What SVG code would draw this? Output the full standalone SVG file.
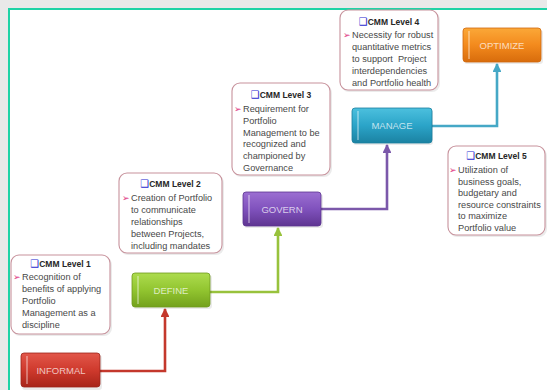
<svg xmlns="http://www.w3.org/2000/svg" width="547" height="390" viewBox="0 0 547 390">
<defs>
<style>
.callout{fill:#fff;stroke:#c7929c;stroke-width:1.1}
.shadow{fill:#000;opacity:0.08}
.title{font-family:"Liberation Sans",Arial,sans-serif;font-size:8.5px;font-weight:bold;fill:#262626;text-anchor:middle}
.sq{font-family:"DejaVu Sans",sans-serif;font-size:10px;fill:#2b2bd0;font-weight:normal}
.body{font-family:"Liberation Sans",Arial,sans-serif;font-size:9.2px;fill:#484848}
.bul{font-family:"DejaVu Sans",sans-serif;font-size:9px;fill:#e0357f}
.lbl{font-family:"Liberation Sans",Arial,sans-serif;font-size:9.5px;fill:#fff;fill-opacity:0.72;text-anchor:middle}
.hl{stroke:#fff;stroke-opacity:0.45;stroke-width:1.5}
.con{fill:none;stroke-width:2.6;stroke-linejoin:miter}
</style>
<linearGradient id="gRed" x1="0" y1="0" x2="0" y2="1"><stop offset="0" stop-color="#e2574a"/><stop offset="0.5" stop-color="#cf3a2d"/><stop offset="1" stop-color="#a82419"/></linearGradient>
<linearGradient id="gGreen" x1="0" y1="0" x2="0" y2="1"><stop offset="0" stop-color="#addc4e"/><stop offset="0.5" stop-color="#92c530"/><stop offset="1" stop-color="#73a11c"/></linearGradient>
<linearGradient id="gPurple" x1="0" y1="0" x2="0" y2="1"><stop offset="0" stop-color="#9c6fd2"/><stop offset="0.5" stop-color="#8052bd"/><stop offset="1" stop-color="#5f3592"/></linearGradient>
<linearGradient id="gTeal" x1="0" y1="0" x2="0" y2="1"><stop offset="0" stop-color="#4cc0de"/><stop offset="0.5" stop-color="#2ba4c8"/><stop offset="1" stop-color="#1b82a2"/></linearGradient>
<linearGradient id="gOrange" x1="0" y1="0" x2="0" y2="1"><stop offset="0" stop-color="#fba838"/><stop offset="0.5" stop-color="#f38a1d"/><stop offset="1" stop-color="#d86c0c"/></linearGradient>
<marker id="aRed" viewBox="0 0 10 10" refX="9" refY="5" markerWidth="3.4" markerHeight="3.4" orient="auto" markerUnits="strokeWidth"><path d="M0,0 L10,5 L0,10 z" fill="#c4382c"/></marker>
<marker id="aGreen" viewBox="0 0 10 10" refX="9" refY="5" markerWidth="3.4" markerHeight="3.4" orient="auto" markerUnits="strokeWidth"><path d="M0,0 L10,5 L0,10 z" fill="#98c23c"/></marker>
<marker id="aPurple" viewBox="0 0 10 10" refX="9" refY="5" markerWidth="3.4" markerHeight="3.4" orient="auto" markerUnits="strokeWidth"><path d="M0,0 L10,5 L0,10 z" fill="#7b58aa"/></marker>
<marker id="aTeal" viewBox="0 0 10 10" refX="9" refY="5" markerWidth="3.4" markerHeight="3.4" orient="auto" markerUnits="strokeWidth"><path d="M0,0 L10,5 L0,10 z" fill="#45a8c6"/></marker>
</defs>

<!-- frame -->
<rect x="0" y="0" width="547" height="390" fill="#e9e9e9"/>
<rect x="9" y="9" width="538" height="381" fill="#fff"/>
<path d="M9,390 V9 H547" fill="none" stroke="#1fd3a6" stroke-width="2"/>

<!-- connectors -->
<g id="connectors">
<path class="con" d="M100,371 H165 V309" stroke="#c4382c" marker-end="url(#aRed)"/>
<path class="con" d="M210,292 H278 V228" stroke="#98c23c" marker-end="url(#aGreen)"/>
<path class="con" d="M321,209 H387 V145" stroke="#7b58aa" marker-end="url(#aPurple)"/>
<path class="con" d="M432,126 H497 V64" stroke="#45a8c6" marker-end="url(#aTeal)"/>
</g>

<!-- stage nodes -->
<g id="informal">
<rect class="shadow" x="22" y="355" width="80" height="35" rx="3"/>
<rect x="21" y="353" width="79" height="34" rx="3" fill="url(#gRed)" stroke="#9c231a" stroke-width="0.8"/>
<line class="hl" x1="27" y1="356" x2="27" y2="384"/>
<text class="lbl" x="61" y="374">INFORMAL</text>
</g>
<g id="define">
<rect class="shadow" x="133" y="275" width="79" height="34" rx="3"/>
<rect x="132" y="273" width="78" height="34" rx="3" fill="url(#gGreen)" stroke="#6f9a1c" stroke-width="0.8"/>
<line class="hl" x1="138" y1="276" x2="138" y2="304"/>
<text class="lbl" x="171" y="294">DEFINE</text>
</g>
<g id="govern">
<rect class="shadow" x="244" y="194" width="79" height="34" rx="3"/>
<rect x="243" y="192" width="78" height="34" rx="3" fill="url(#gPurple)" stroke="#5a3290" stroke-width="0.8"/>
<line class="hl" x1="249" y1="195" x2="249" y2="223"/>
<text class="lbl" x="282" y="213">GOVERN</text>
</g>
<g id="manage">
<rect class="shadow" x="353" y="110" width="80" height="35" rx="3"/>
<rect x="352" y="108" width="80" height="35" rx="3" fill="url(#gTeal)" stroke="#1a7f9e" stroke-width="0.8"/>
<line class="hl" x1="358" y1="111" x2="358" y2="140"/>
<text class="lbl" x="392" y="129">MANAGE</text>
</g>
<g id="optimize">
<rect class="shadow" x="464" y="30" width="79" height="34" rx="3"/>
<rect x="463" y="28" width="78" height="34" rx="3" fill="url(#gOrange)" stroke="#cf680c" stroke-width="0.8"/>
<line class="hl" x1="469" y1="31" x2="469" y2="59"/>
<text class="lbl" x="502" y="48.5">OPTIMIZE</text>
</g>

<!-- callouts -->
<g id="level1">
<rect class="shadow" x="12" y="257" width="100" height="79" rx="8"/>
<rect class="callout" x="11" y="255" width="99" height="79" rx="8"/>
<text class="title" x="60.5" y="267"><tspan class="sq">❑</tspan>CMM Level 1</text>
<text class="bul" x="13" y="280">➢</text>
<text class="body"><tspan x="22" y="280">Recognition of</tspan><tspan x="22" y="292">benefits of applying</tspan><tspan x="22" y="304">Portfolio</tspan><tspan x="22" y="316">Management as a</tspan><tspan x="22" y="328">discipline</tspan></text>
</g>
<g id="level2">
<rect class="shadow" x="120" y="175" width="104" height="80" rx="8"/>
<rect class="callout" x="119" y="173" width="103" height="80" rx="8"/>
<text class="title" x="170.5" y="187"><tspan class="sq">❑</tspan>CMM Level 2</text>
<text class="bul" x="122" y="201">➢</text>
<text class="body"><tspan x="131" y="201">Creation of Portfolio</tspan><tspan x="131" y="213">to communicate</tspan><tspan x="131" y="225">relationships</tspan><tspan x="131" y="237">between Projects,</tspan><tspan x="131" y="249">including mandates</tspan></text>
</g>
<g id="level3">
<rect class="shadow" x="233" y="85" width="99" height="92" rx="8"/>
<rect class="callout" x="232" y="83" width="98" height="92" rx="8"/>
<text class="title" x="281" y="98"><tspan class="sq">❑</tspan>CMM Level 3</text>
<text class="bul" x="234" y="112">➢</text>
<text class="body"><tspan x="243" y="112">Requirement for</tspan><tspan x="243" y="123.8">Portfolio</tspan><tspan x="243" y="135.6">Management to be</tspan><tspan x="243" y="147.4">recognized and</tspan><tspan x="243" y="159.2">championed by</tspan><tspan x="243" y="171">Governance</tspan></text>
</g>
<g id="level4">
<rect class="shadow" x="341" y="12" width="99" height="80" rx="8"/>
<rect class="callout" x="340" y="10" width="98" height="80" rx="8"/>
<text class="title" x="389" y="25"><tspan class="sq">❑</tspan>CMM Level 4</text>
<text class="bul" x="343" y="38">➢</text>
<text class="body" style="white-space:pre"><tspan x="352" y="38">Necessity for robust</tspan><tspan x="352" y="50">quantitative metrics</tspan><tspan x="352" y="62">to support  Project</tspan><tspan x="352" y="74">interdependencies</tspan><tspan x="352" y="86">and Portfolio health</tspan></text>
</g>
<g id="level5">
<rect class="shadow" x="449" y="148" width="98" height="89" rx="8"/>
<rect class="callout" x="448" y="146" width="97" height="89" rx="8"/>
<text class="title" x="496.5" y="159"><tspan class="sq">❑</tspan>CMM Level 5</text>
<text class="bul" x="449" y="173">➢</text>
<text class="body"><tspan x="458" y="173">Utilization of</tspan><tspan x="458" y="184.6">business goals,</tspan><tspan x="458" y="196.2">budgetary and</tspan><tspan x="458" y="207.8">resource constraints</tspan><tspan x="458" y="219.4">to maximize</tspan><tspan x="458" y="231">Portfolio value</tspan></text>
</g>
</svg>
